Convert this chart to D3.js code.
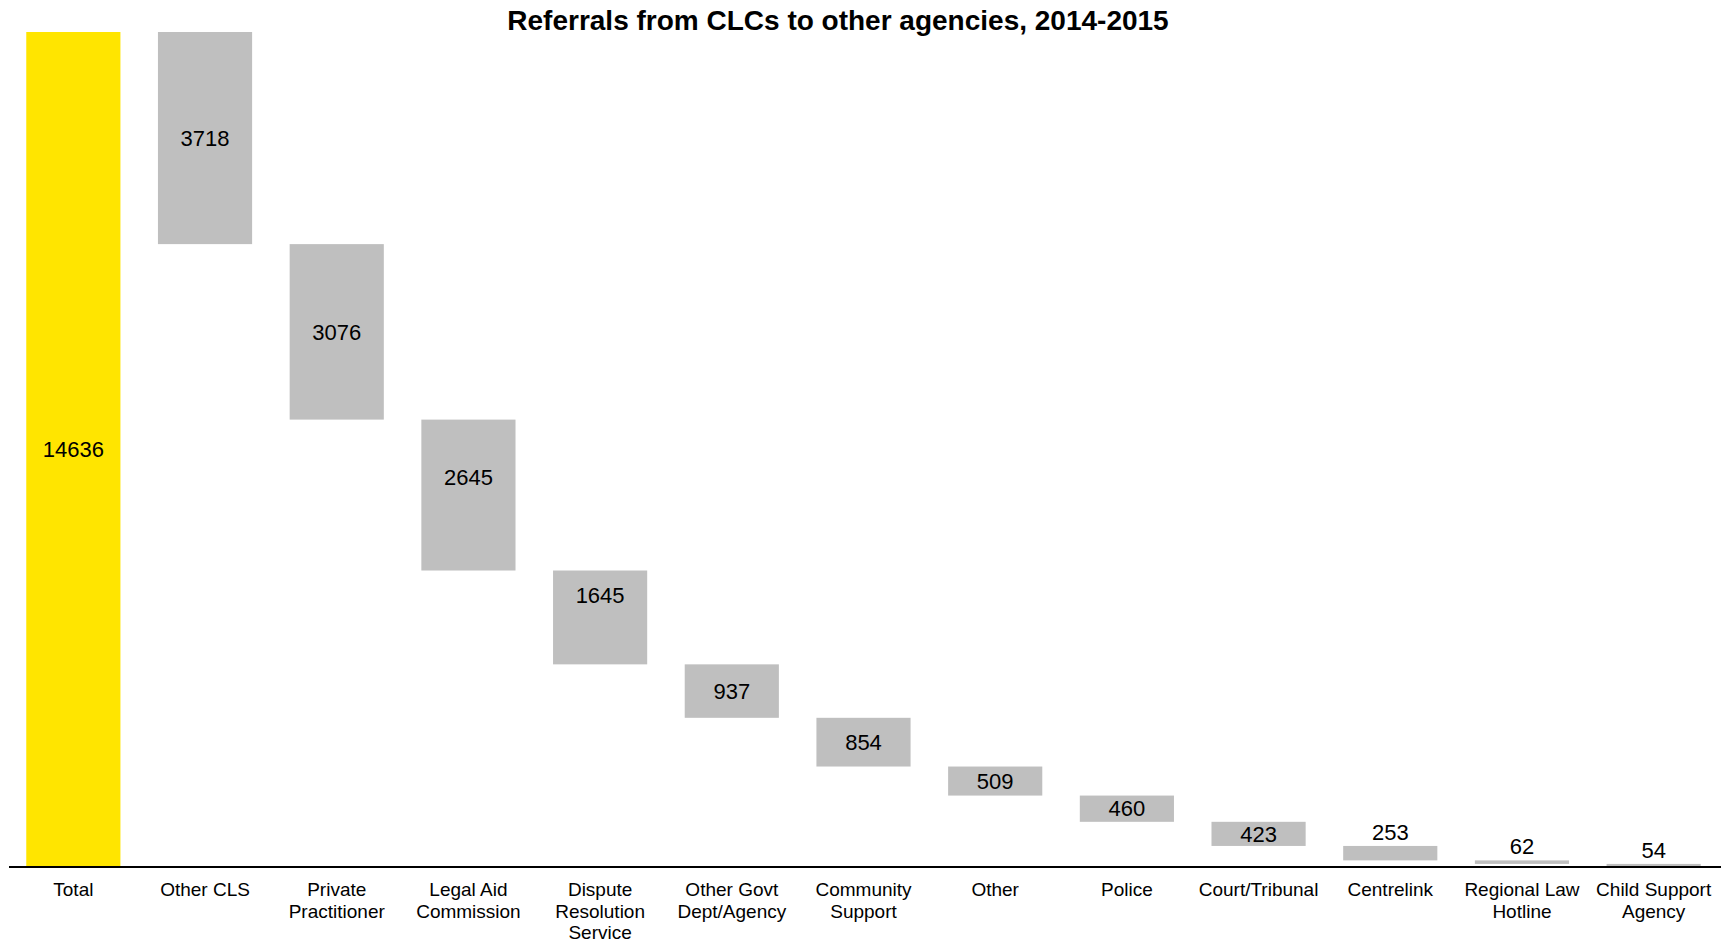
<!DOCTYPE html>
<html>
<head>
<meta charset="utf-8">
<script src="https://cdn.jsdelivr.net/npm/d3@7"></script>
<style>
  html, body { margin: 0; padding: 0; background: #ffffff; }
  svg { display: block; font-family: "Liberation Sans", Arial, sans-serif; }
</style>
</head>
<body>
<svg id="chart" width="1733" height="944"></svg>
<script>
// Referral counts by destination agency; the first entry is the overall total.
const categories = [
  "Total", "Other CLS", "Private\nPractitioner", "Legal Aid\nCommission",
  "Dispute\nResolution\nService", "Other Govt\nDept/Agency", "Community\nSupport",
  "Other", "Police", "Court/Tribunal", "Centrelink", "Regional Law\nHotline",
  "Child Support\nAgency"
];
const values = [14636, 3718, 3076, 2645, 1645, 937, 854, 509, 460, 423, 253, 62, 54];
const title = "Referrals from CLCs to other agencies, 2014-2015";

const axisLeft = 9, axisRight = 1721;
const baseY = 867, topY = 32;

const svg = d3.select("#chart");

// Build waterfall segments: total from zero, then each part stepping down.
const segments = [];
let remaining = values[0];
segments.push({ cat: categories[0], value: values[0], y0: 0, y1: values[0], total: true });
for (let i = 1; i < values.length; i++) {
  const top = remaining;
  remaining -= values[i];
  segments.push({ cat: categories[i], value: values[i], y0: remaining, y1: top, total: false });
}

const x = d3.scaleBand()
  .domain(categories)
  .range([axisLeft - 1.5, axisRight - 1.5])
  .paddingInner(0.285)
  .paddingOuter(0.1425);

const y = d3.scaleLinear()
  .domain([0, values[0]])
  .range([baseY, topY]);

// Bars
svg.append("g")
  .selectAll("rect")
  .data(segments)
  .join("rect")
  .attr("x", d => x(d.cat))
  .attr("width", x.bandwidth())
  .attr("y", d => y(d.y1))
  .attr("height", d => y(d.y0) - y(d.y1))
  .attr("fill", d => d.total ? "#FFE500" : "#BFBFBF");

// A couple of labels sit a little above the bar centre
const labelNudge = { "Legal Aid\nCommission": -18, "Dispute\nResolution\nService": -22 };

// Value labels: centred in the bar, or just above it when the bar is too thin
svg.append("g")
  .selectAll("text")
  .data(segments)
  .join("text")
  .attr("x", d => x(d.cat) + x.bandwidth() / 2)
  .attr("y", d => {
    const h = y(d.y0) - y(d.y1);
    return h < 20 ? y(d.y1) - 6 : (y(d.y0) + y(d.y1)) / 2 + (labelNudge[d.cat] || 0);
  })
  .attr("dy", d => (y(d.y0) - y(d.y1)) < 20 ? "0" : "0.35em")
  .attr("text-anchor", "middle")
  .attr("font-size", 22)
  .attr("fill", "#000")
  .text(d => d.value);

// Category axis
const xAxis = d3.axisBottom(x).tickSize(0).tickFormat("");
const axisG = svg.append("g")
  .attr("transform", `translate(0,${baseY})`)
  .call(xAxis);
axisG.select(".domain")
  .attr("d", `M${axisLeft},0H${axisRight}`)
  .attr("stroke", "#000")
  .attr("stroke-width", 2);

axisG.selectAll(".tick").each(function (d) {
  const t = d3.select(this).append("text")
    .attr("text-anchor", "middle")
    .attr("fill", "#000")
    .attr("font-size", 19)
    .attr("y", 29);
  d.split("\n").forEach((line, i) => {
    t.append("tspan").attr("x", 0).attr("dy", i === 0 ? 0 : 21.5).text(line);
  });
});

// Title
svg.append("text")
  .attr("x", 838)
  .attr("y", 30)
  .attr("text-anchor", "middle")
  .attr("font-size", 28)
  .attr("font-weight", "bold")
  .attr("fill", "#000")
  .text(title);
</script>
</body>
</html>
